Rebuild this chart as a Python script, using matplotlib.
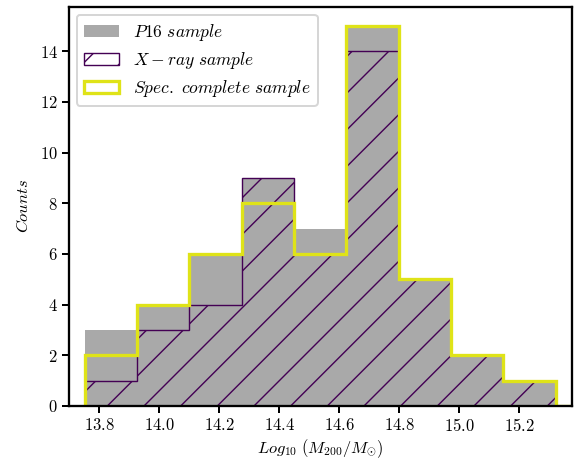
import numpy as np
import matplotlib
matplotlib.use("Agg")
import matplotlib.pyplot as plt

# bin edges of log10(M200/Msun) (last bin empty)
bin_edges = [13.752, 13.926, 14.101, 14.275, 14.450, 14.624,
             14.798, 14.973, 15.147, 15.322, 15.496]

p16_counts = [3, 4, 6, 9, 7, 15, 5, 2, 1, 0]
xray_counts = [1, 3, 4, 9, 6, 14, 5, 2, 1, 0]
spec_counts = [2, 4, 6, 8, 6, 15, 5, 2, 1, 0]

# hatch spacing in Agg scales with dpi
DPI = 110
P = 72.0 / DPI  # points per pixel

plt.rcParams['font.family'] = 'serif'
plt.rcParams['font.serif'] = ['cmr10']
plt.rcParams['mathtext.fontset'] = 'cm'
plt.rcParams['axes.formatter.use_mathtext'] = True
plt.rcParams['hatch.linewidth'] = 1.4 * P
plt.rcParams['hatch.color'] = '#440154'

fs = 16.5 * P

fig = plt.figure(figsize=(576 / DPI, 462 / DPI), dpi=DPI)
ax = fig.add_axes([69 / 576, 56 / 462, (572 - 69) / 576, (455 - 56) / 462])

edges = np.array(bin_edges)
centers = 0.5 * (edges[:-1] + edges[1:])

ax.hist(centers, bins=edges, weights=p16_counts, color='#a9a9a9',
        label=r'$P16\ sample$')
ax.hist(centers, bins=edges, weights=xray_counts, histtype='step',
        edgecolor='#440154', hatch='/', linewidth=1.4 * P,
        label=r'$X-ray\ sample$')
ax.hist(centers, bins=edges, weights=spec_counts, histtype='step',
        color='#dfe318', linewidth=3.3 * P,
        label=r'$Spec.\ complete\ sample$')

ax.set_xlim(13.70, 15.376)
ax.set_ylim(0, 15.75)
ax.set_xticks([13.8, 14.0, 14.2, 14.4, 14.6, 14.8, 15.0, 15.2])
ax.set_yticks([0, 2, 4, 6, 8, 10, 12, 14])

ax.set_xlabel(r'$Log_{10}\ (M_{200}/M_{\odot})$', fontsize=fs, labelpad=3 * P)
ax.set_ylabel(r'$Counts$', fontsize=fs, labelpad=9 * P)
ax.tick_params(labelsize=fs, length=7 * P, width=2 * P, pad=4 * P)
for s in ax.spines.values():
    s.set_linewidth(2.3 * P)

leg = ax.legend(loc='upper left', fontsize=17.5 * P, fancybox=True,
                labelspacing=0.4, borderaxespad=0.45)
leg.get_frame().set_linewidth(2 * P)

fig.savefig('out.png', dpi=DPI)
